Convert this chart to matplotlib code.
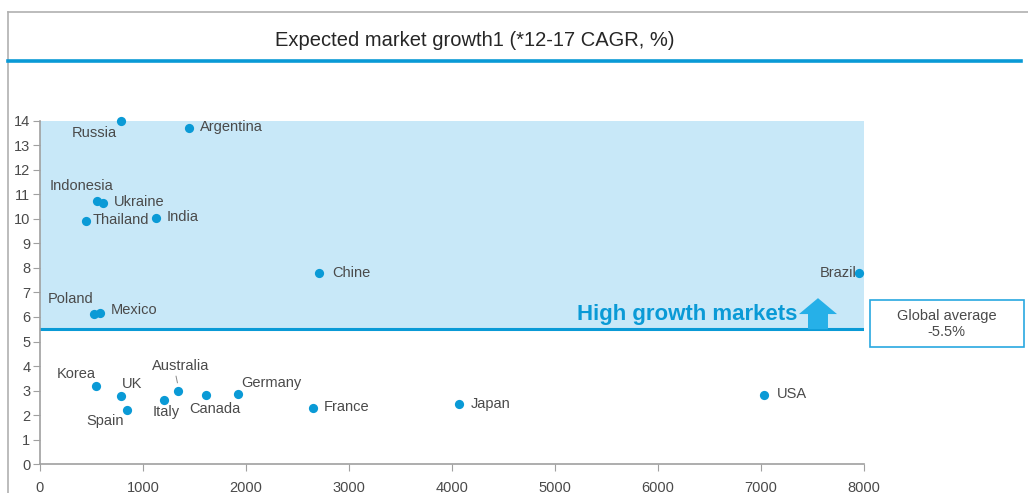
import matplotlib
matplotlib.use('Agg')
import matplotlib.pyplot as plt
from matplotlib.patches import FancyArrow, Rectangle
from matplotlib.lines import Line2D

plt.rcParams['font.family'] = ['Liberation Sans', 'DejaVu Sans']

# market size vs expected growth (12-17 CAGR, %)
countries = ['Russia', 'Argentina', 'Indonesia', 'Ukraine', 'Thailand', 'India',
             'Chine', 'Brazil', 'Poland', 'Mexico', 'Korea', 'UK', 'Spain',
             'Italy', 'Australia', 'Canada', 'Germany', 'France', 'Japan', 'USA']
market_size = [786, 1447, 553, 612, 447, 1126, 2709, 7951, 524, 583,
               544, 786, 845, 1204, 1340, 1612, 1922, 2650, 4068, 7029]
growth = [14.0, 13.7, 10.73, 10.65, 9.92, 10.04, 7.8, 7.8, 6.12, 6.16,
          3.18, 2.78, 2.2, 2.61, 2.98, 2.82, 2.86, 2.29, 2.45, 2.82]
global_avg = 5.5

# label offsets in points (dx, dy) and alignment
label_pos = {
    'Russia': (-19, -8.6, 'center'), 'Argentina': (8, 0.7, 'left'),
    'Indonesia': (-11, 11, 'center'), 'Ukraine': (8, 0.5, 'left'),
    'Thailand': (5, 0.5, 'left'), 'India': (8, 0.7, 'left'),
    'Chine': (9.5, 0, 'left'), 'Brazil': (-2, 0, 'right'),
    'Poland': (-17, 11, 'center'), 'Mexico': (8, 2, 'left'),
    'Korea': (-14, 8.6, 'center'), 'UK': (8, 8.6, 'center'),
    'Spain': (-16, -8, 'center'), 'Italy': (1.5, -8.6, 'center'),
    'Australia': (2, 18, 'center'), 'Canada': (6.5, -10, 'center'),
    'Germany': (24, 8, 'center'), 'France': (8, 0.5, 'left'),
    'Japan': (8.5, 0, 'left'), 'USA': (9, 0.7, 'left'),
}

blue = '#0a9ad6'
txt = '#4a4a4a'
fs = 10.5

fig = plt.figure(figsize=(10.28, 4.93), dpi=100)
ax = fig.add_axes([0.0389, 0.0588, 0.8016, 0.6958])

ax.set_xlim(0, 8000)
ax.set_ylim(0, 14)
ax.axhspan(global_avg, 14, color='#c8e8f8', zorder=0, lw=0)
ax.axhline(global_avg, color=blue, lw=2.2, zorder=1)

ax.scatter(market_size, growth, s=44, color=blue, zorder=3, clip_on=False, lw=0)
for name, x, y in zip(countries, market_size, growth):
    dx, dy, ha = label_pos[name]
    ax.annotate(name, (x, y), xytext=(dx, dy), textcoords='offset points',
                ha=ha, va='center', fontsize=fs, color=txt)
# leader line for Australia
ax.annotate('', (1340, 3.2), xytext=(1315, 3.7),
            arrowprops=dict(arrowstyle='-', color='#888888', lw=0.7))

ax.text(7350, 6.12, 'High growth markets', color=blue, fontsize=16,
        ha='right', va='center', fontweight='bold')
ax.add_patch(FancyArrow(7553, global_avg, 0, 1.27, width=194, head_width=369,
                        head_length=0.65, length_includes_head=True,
                        color='#26b0e8', lw=0, zorder=2))

for s in ['top', 'right']:
    ax.spines[s].set_visible(False)
for s in ['left', 'bottom']:
    ax.spines[s].set_color('#a0a0a0')
    ax.spines[s].set_linewidth(1.2)
ax.set_yticks(range(0, 15))
ax.set_xticks(range(0, 8001, 1000))
ax.tick_params(axis='y', colors='#a0a0a0', labelcolor=txt, labelsize=fs,
               length=5, pad=2)
ax.tick_params(axis='x', colors='#a0a0a0', labelcolor=txt, labelsize=fs,
               length=5, direction='out', pad=7)

# outer frame, title and separator
fig.add_artist(Line2D([0.0078, 1.0], [0.976, 0.976], color='#b0b0b0', lw=1.2))
fig.add_artist(Line2D([0.0078, 0.0078], [0.0, 0.976], color='#b0b0b0', lw=1.2))
fig.add_artist(Line2D([0.0078, 0.993], [0.876, 0.876], color=blue, lw=2.6))
fig.text(0.462, 0.918, 'Expected market growth1 (*12-17 CAGR, %)', ha='center',
         va='center', fontsize=14.5, color='#262626')

# global average box
fig.add_artist(Rectangle((0.8463, 0.296), 0.1497, 0.095, transform=fig.transFigure,
                         fill=False, edgecolor='#29a8e0', lw=1.2))
fig.text(0.921, 0.343, 'Global average\n-5.5%', ha='center', va='center',
         fontsize=fs, color=txt, linespacing=1.15)

fig.savefig('out.png', dpi=100)
